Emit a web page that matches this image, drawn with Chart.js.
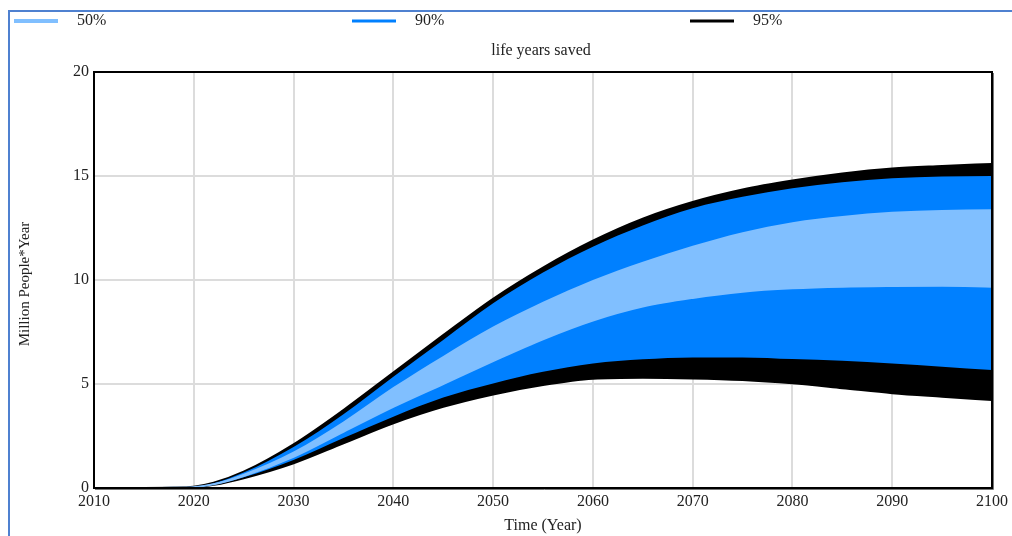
<!DOCTYPE html>
<html>
<head>
<meta charset="utf-8">
<title>life years saved</title>
<script src="https://cdn.jsdelivr.net/npm/chart.js@4.4.1/dist/chart.umd.min.js"></script>
<style>
  html, body { margin: 0; padding: 0; background: #ffffff; }
  #wrap { position: relative; width: 1012px; height: 536px; }
  canvas { display: block; }
</style>
</head>
<body>
<div id="wrap"><canvas id="chart" width="1012" height="536"></canvas></div>
<script>
// Simulation years (x values)
const years = [2012, 2015, 2018, 2020, 2022, 2025, 2030, 2035, 2040, 2045, 2050,
               2055, 2060, 2065, 2070, 2075, 2080, 2085, 2090, 2095, 2100];

// Confidence bounds of life years saved (million people*year)
const p95Upper = [0, 0, 0.01, 0.06, 0.25, 0.78, 2.10, 3.75, 5.55, 7.35, 9.10,
                  10.60, 11.89, 12.95, 13.75, 14.35, 14.78, 15.12, 15.36, 15.48, 15.58];
const p90Upper = [0, 0, 0.01, 0.05, 0.23, 0.74, 1.97, 3.55, 5.35, 7.12, 8.88,
                  10.36, 11.60, 12.62, 13.45, 14.00, 14.41, 14.70, 14.89, 14.97, 15.00];
const p50Upper = [0, 0, 0.01, 0.05, 0.21, 0.68, 1.75, 3.20, 4.85, 6.35, 7.76,
                  8.96, 10.00, 10.88, 11.65, 12.30, 12.78, 13.08, 13.28, 13.37, 13.40];
const p50Lower = [0, 0, 0.01, 0.04, 0.18, 0.58, 1.50, 2.70, 3.90, 5.00, 6.10,
                  7.15, 8.05, 8.72, 9.14, 9.44, 9.60, 9.68, 9.71, 9.72, 9.68];
const p90Lower = [0, 0, 0.01, 0.04, 0.16, 0.52, 1.35, 2.40, 3.43, 4.35, 5.03,
                  5.59, 5.99, 6.19, 6.28, 6.28, 6.20, 6.12, 5.99, 5.83, 5.67];
const p95Lower = [0, 0, 0.01, 0.03, 0.15, 0.47, 1.19, 2.15, 3.11, 3.90, 4.50,
                  4.95, 5.25, 5.30, 5.27, 5.19, 5.03, 4.80, 4.56, 4.39, 4.23];

const legendLabels = ['50%', '90%', '95%'];
const chartTitle = 'life years saved';
const xTitle = 'Time (Year)';
const yTitle = 'Million People*Year';

const COLORS = { p50: '#80bfff', p90: '#0080ff', p95: '#000000' };
const SERIF = "'Liberation Serif', 'Times New Roman', Times, serif";
const TEXT = '#222222';

const toPoints = arr => arr.map((v, i) => ({ x: years[i], y: v }));

function band(values, color, fill, width) {
  return {
    data: toPoints(values),
    borderColor: color,
    backgroundColor: color,
    borderWidth: width,
    pointRadius: 0,
    fill: fill,
    cubicInterpolationMode: 'monotone'
  };
}

// Dataset 0 is painted last, so the narrowest band sits on top.
const datasets = [
  band(p50Upper, COLORS.p50, '+1', 0),
  band(p50Lower, COLORS.p50, false, 2),
  band(p90Upper, COLORS.p90, '+1', 0),
  band(p90Lower, COLORS.p90, false, 0),
  band(p95Upper, COLORS.p95, '+1', 2),
  band(p95Lower, COLORS.p95, false, 2)
];

// Outer frame, plot border, legend and titles
const decorations = {
  id: 'decorations',
  beforeDraw(chart) {
    const ctx = chart.ctx;
    ctx.save();
    ctx.strokeStyle = '#4f81d0';
    ctx.lineWidth = 2;
    ctx.beginPath();
    ctx.moveTo(9, 536);
    ctx.lineTo(9, 11);
    ctx.lineTo(1012, 11);
    ctx.stroke();
    ctx.restore();
  },
  afterDatasetsDraw(chart) {
    const { ctx, chartArea: a } = chart;
    ctx.save();
    ctx.strokeStyle = '#777777';
    ctx.lineWidth = 1;
    ctx.beginPath();
    ctx.moveTo(a.right + 1.5, a.top + 1);
    ctx.lineTo(a.right + 1.5, a.bottom + 1.5);
    ctx.lineTo(a.left + 1, a.bottom + 1.5);
    ctx.stroke();
    ctx.strokeStyle = '#000000';
    ctx.lineWidth = 2;
    ctx.strokeRect(a.left, a.top, a.right - a.left, a.bottom - a.top);
    ctx.restore();
  },
  afterDraw(chart) {
    const { ctx, chartArea: a } = chart;
    ctx.save();
    ctx.fillStyle = TEXT;
    ctx.font = '16px ' + SERIF;
    ctx.textBaseline = 'middle';

    const items = [
      { x: 14, label: legendLabels[0], color: COLORS.p50, w: 4 },
      { x: 352, label: legendLabels[1], color: COLORS.p90, w: 3 },
      { x: 690, label: legendLabels[2], color: COLORS.p95, w: 3 }
    ];
    items.forEach(it => {
      ctx.strokeStyle = it.color;
      ctx.lineWidth = it.w;
      ctx.beginPath();
      ctx.moveTo(it.x, 21);
      ctx.lineTo(it.x + 44, 21);
      ctx.stroke();
      ctx.textAlign = 'left';
      ctx.fillText(it.label, it.x + 63, 21);
    });

    ctx.textAlign = 'center';
    ctx.fillText(chartTitle, 541, 51);
    ctx.fillText(xTitle, (a.left + a.right) / 2, 526);

    ctx.font = '15px ' + SERIF;
    ctx.translate(25, 284);
    ctx.rotate(-Math.PI / 2);
    ctx.fillText(yTitle, 0, 0);
    ctx.restore();
  }
};

new Chart(document.getElementById('chart'), {
  type: 'line',
  data: { datasets },
  plugins: [decorations],
  options: {
    responsive: false,
    animation: false,
    events: [],
    layout: { padding: { top: 72, right: 18, left: 0, bottom: 0 } },
    plugins: {
      legend: { display: false },
      title: { display: false },
      tooltip: { enabled: false },
      filler: { propagate: false }
    },
    scales: {
      x: {
        type: 'linear',
        min: 2010,
        max: 2100,
        afterFit(scale) { scale.height = 48; },
        border: { display: false },
        grid: {
          drawTicks: false,
          lineWidth: 2,
          color: ctx => (ctx.tick && (ctx.tick.value === 2010 || ctx.tick.value === 2100)) ? 'rgba(0,0,0,0)' : '#dcdcdc'
        },
        ticks: {
          stepSize: 10,
          autoSkip: false,
          maxRotation: 0,
          padding: 4,
          color: TEXT,
          font: { family: SERIF, size: 16 },
          callback: v => String(v)
        }
      },
      y: {
        min: 0,
        max: 20,
        afterFit(scale) { scale.width = 94; },
        border: { display: false },
        grid: {
          drawTicks: false,
          lineWidth: 2,
          color: ctx => (ctx.tick && (ctx.tick.value === 0 || ctx.tick.value === 20)) ? 'rgba(0,0,0,0)' : '#dcdcdc'
        },
        ticks: {
          stepSize: 5,
          padding: 5,
          color: TEXT,
          font: { family: SERIF, size: 16 }
        }
      }
    }
  }
});
</script>
</body>
</html>
